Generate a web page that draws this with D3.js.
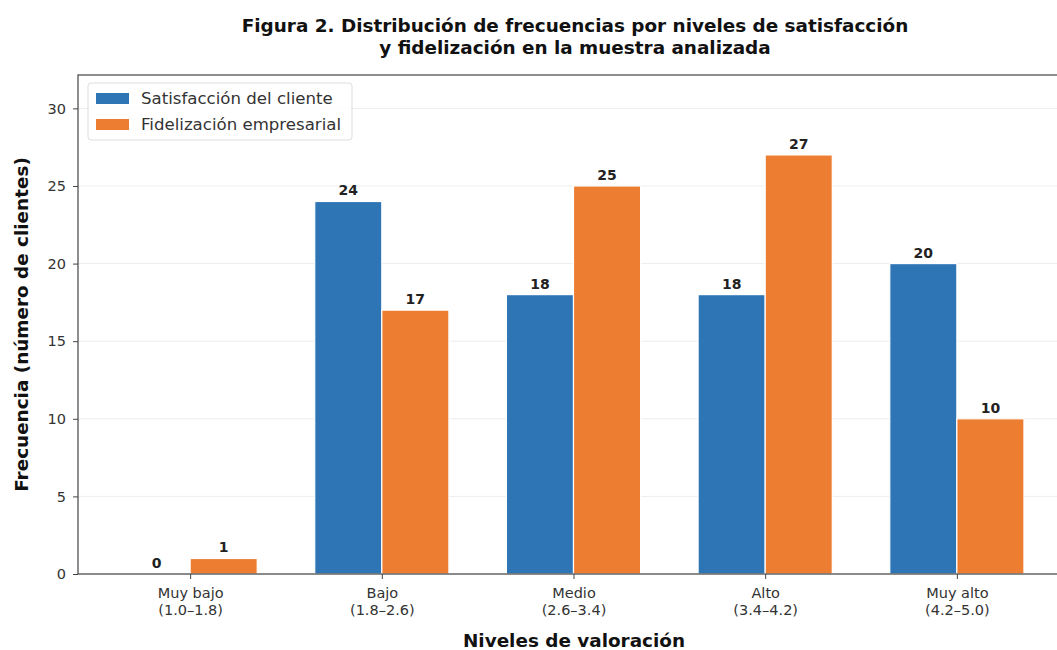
<!DOCTYPE html>
<html>
<head>
<meta charset="utf-8">
<script src="https://cdn.jsdelivr.net/npm/d3@7"></script>
<style>
  body { margin: 0; background: #fff; }
  text { font-family: "DejaVu Sans", sans-serif; }
</style>
</head>
<body>
<div id="chart"></div>
<script>
// data
var niveles = ["Muy bajo", "Bajo", "Medio", "Alto", "Muy alto"]
var rangos = ["(1.0\u20131.8)", "(1.8\u20132.6)", "(2.6\u20133.4)", "(3.4\u20134.2)", "(4.2\u20135.0)"]
var satisfaccion = [0, 24, 18, 18, 20]
var fidelizacion = [1, 17, 25, 27, 10]
var series_names = ["Satisfacción del cliente", "Fidelización empresarial"]
var y_ticks = [0, 5, 10, 15, 20, 25, 30]

var colors = ["#2E75B6", "#ED7D31"]

var width = 1057
var height = 650
// axes box (right side is cut by the picture edge)
var ax_left = 78, ax_right = 1069, ax_top = 75, ax_bottom = 574

var svg = d3.select("#chart").append("svg")
    .attr("width", width)
    .attr("height", height)

var x = d3.scaleLinear().domain([-0.585, 4.585]).range([ax_left, ax_right])
var y = d3.scaleLinear().domain([0, 32.15]).range([ax_bottom, ax_top])
var bar_w = 0.35

// grid
svg.append("g").selectAll("line")
    .data(y_ticks)
    .enter().append("line")
    .attr("x1", ax_left).attr("x2", ax_right)
    .attr("y1", function(d){ return y(d) }).attr("y2", function(d){ return y(d) })
    .attr("stroke", "#e8e8e8")
    .attr("stroke-width", 0.8)

// bars
var all_series = [satisfaccion, fidelizacion]
all_series.forEach(function(values, s){
    var offset = s == 0 ? -bar_w/2 : bar_w/2
    svg.append("g").selectAll("rect")
        .data(values)
        .enter().append("rect")
        .attr("x", function(d,i){ return x(i + offset - bar_w/2) })
        .attr("width", x(bar_w) - x(0))
        .attr("y", function(d){ return y(d) })
        .attr("height", function(d){ return y(0) - y(d) })
        .attr("fill", colors[s])
        .attr("stroke", "#fff")
        .attr("stroke-width", 1.2)

    svg.append("g").selectAll("text")
        .data(values)
        .enter().append("text")
        .attr("x", function(d,i){ return x(i + offset) })
        .attr("y", function(d){ return y(d) - 6 })
        .attr("text-anchor", "middle")
        .attr("font-size", 14)
        .attr("font-weight", "bold")
        .attr("fill", "#222")
        .text(function(d){ return d })
})

// axes
var yAxis = svg.append("g")
    .attr("transform", "translate(" + ax_left + ",0)")
    .call(d3.axisLeft(y).tickValues(y_ticks).tickSize(5).tickPadding(7))
yAxis.select(".domain").remove()
yAxis.selectAll("text").attr("font-size", 14.5).attr("fill", "#333").attr("font-family", "DejaVu Sans")
yAxis.selectAll("line").attr("stroke", "#444")

var xAxis = svg.append("g")
    .attr("transform", "translate(0," + ax_bottom + ")")
    .call(d3.axisBottom(x).tickValues(d3.range(niveles.length)).tickSize(5).tickFormat(""))
xAxis.select(".domain").remove()
xAxis.selectAll("line").attr("stroke", "#444")

xAxis.selectAll(".tick").each(function(d){
    var t = d3.select(this).append("text")
        .attr("text-anchor", "middle")
        .attr("font-size", 14.5)
        .attr("fill", "#333")
        .attr("font-family", "DejaVu Sans")
    t.append("tspan").attr("x", 0).attr("y", 24).text(niveles[d])
    t.append("tspan").attr("x", 0).attr("y", 41).text(rangos[d])
})

// spines
svg.append("rect")
    .attr("x", ax_left).attr("y", ax_top)
    .attr("width", ax_right - ax_left).attr("height", ax_bottom - ax_top)
    .attr("fill", "none")
    .attr("stroke", "#444")
    .attr("stroke-width", 1.2)

// legend
var legend = svg.append("g").attr("transform", "translate(88,83)")
legend.append("rect")
    .attr("width", 264).attr("height", 57)
    .attr("rx", 3)
    .attr("fill", "#fff").attr("fill-opacity", 0.8)
    .attr("stroke", "#ddd")
series_names.forEach(function(name, i){
    legend.append("rect")
        .attr("x", 8).attr("y", 10 + i*26)
        .attr("width", 33).attr("height", 11)
        .attr("fill", colors[i])
    legend.append("text")
        .attr("x", 53).attr("y", 21 + i*26)
        .attr("font-size", 16.6)
        .attr("fill", "#333")
        .text(name)
})

// title
var title = svg.append("text")
    .attr("text-anchor", "middle")
    .attr("font-size", 18.4)
    .attr("font-weight", "bold")
    .attr("fill", "#111")
title.append("tspan").attr("x", 575).attr("y", 32).text("Figura 2. Distribución de frecuencias por niveles de satisfacción")
title.append("tspan").attr("x", 575).attr("y", 54).text("y fidelización en la muestra analizada")

// axis labels
svg.append("text")
    .attr("x", 574).attr("y", 647)
    .attr("text-anchor", "middle")
    .attr("font-size", 18.4)
    .attr("font-weight", "bold")
    .attr("fill", "#111")
    .text("Niveles de valoración")

svg.append("text")
    .attr("transform", "translate(28," + ((ax_top + ax_bottom)/2) + ") rotate(-90)")
    .attr("text-anchor", "middle")
    .attr("font-size", 18.4)
    .attr("font-weight", "bold")
    .attr("fill", "#111")
    .text("Frecuencia (número de clientes)")
</script>
</body>
</html>
